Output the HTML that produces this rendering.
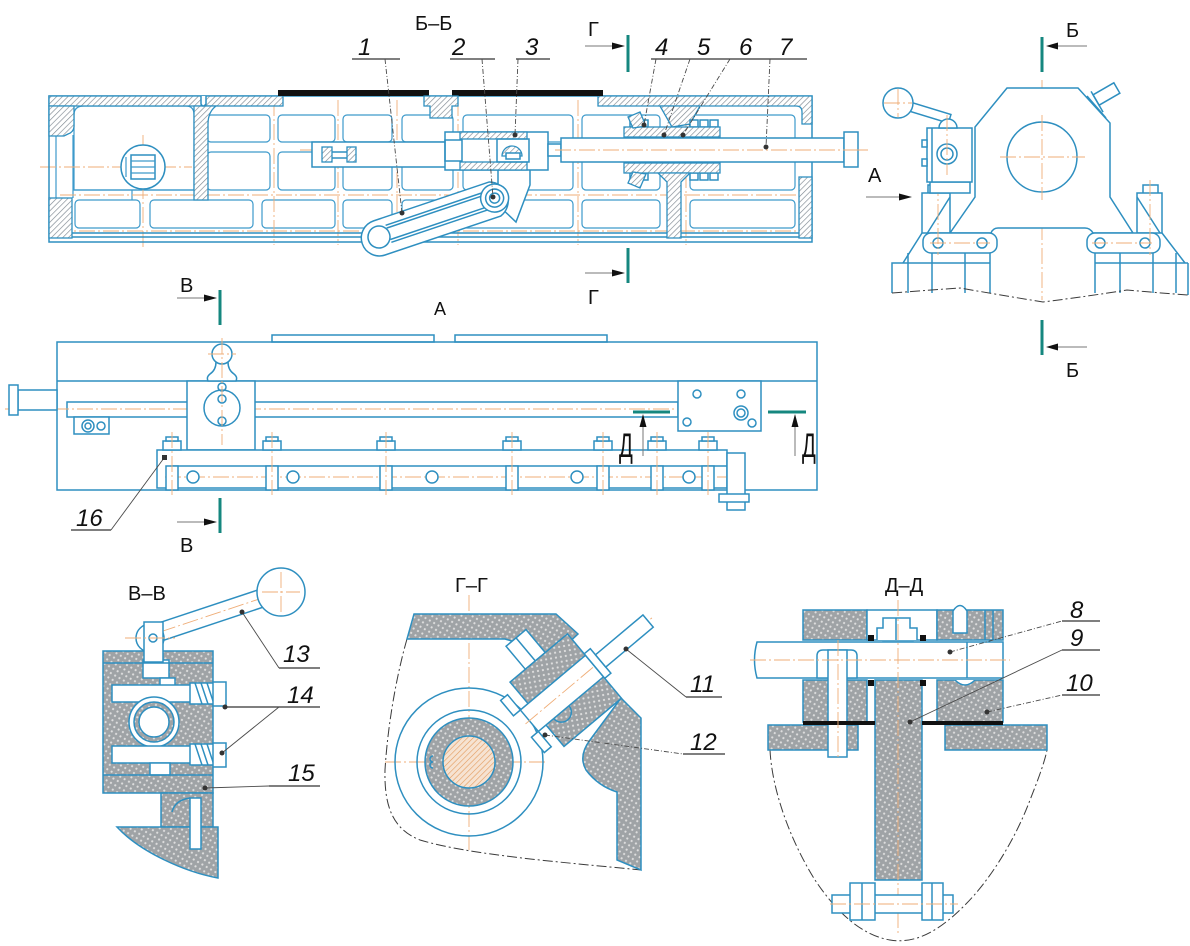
<!DOCTYPE html>
<html><head><meta charset="utf-8">
<style>
html,body{margin:0;padding:0;background:#fff;}
svg{display:block;}
</style></head><body>
<svg width="1190" height="946" viewBox="0 0 1190 946" xmlns="http://www.w3.org/2000/svg">
<defs>
<pattern id="h" width="4" height="4" patternUnits="userSpaceOnUse" patternTransform="rotate(45)">
<rect width="4" height="4" fill="#fff"/>
<line x1="0" y1="0" x2="0" y2="4" stroke="#7d8790" stroke-width="1.3"/>
</pattern>
<pattern id="d" width="5" height="5" patternUnits="userSpaceOnUse" patternTransform="rotate(30)">
<rect width="5" height="5" fill="#9fa3a6"/>
<circle cx="2.5" cy="2.5" r="1.1" fill="#dedede"/>
</pattern>
<pattern id="oh" width="4" height="4" patternUnits="userSpaceOnUse" patternTransform="rotate(45)">
<rect width="4" height="4" fill="#f6e3d2"/>
<line x1="0" y1="0" x2="0" y2="4" stroke="#e39a5c" stroke-width="1.2"/>
</pattern>
</defs>
<style>
.s{fill:none;stroke:#2e8fc0;stroke-width:1.5}
.g{fill:none;stroke:#3d9acb;stroke-width:1.2}
.w{fill:#fff;stroke:#2e8fc0;stroke-width:1.5}
.hb{fill:url(#h);stroke:#2e8fc0;stroke-width:1.3}
.db{fill:url(#d);stroke:#2e8fc0;stroke-width:1.5}
.c{fill:none;stroke:#efad77;stroke-width:.9;stroke-dasharray:16 3 2 3}
.t{stroke:#15877f;stroke-width:3;fill:none}
.l{stroke:#4a4a4a;stroke-width:.9;fill:none}
.ld{stroke:#4a4a4a;stroke-width:.9;fill:none;stroke-dasharray:5 2 1 2}
.u{stroke:#333;stroke-width:1.2}
.n{font-family:"Liberation Sans",sans-serif;font-style:italic;font-size:24px;fill:#111}
.tx{font-family:"Liberation Sans",sans-serif;font-size:20px;fill:#111}
.o{fill:none;stroke:#3a3a3a;stroke-width:1;stroke-dasharray:10 3 2 3}
.ar{fill:#111}
.al{stroke:#777;stroke-width:1}
.dot{fill:#333}
</style>

<!-- ================= SECTION Б-Б ================= -->
<text class="tx" x="415" y="30">Б–Б</text>
<!-- grid -->
<g class="g">
<rect x="207" y="115" width="63" height="27" rx="4"/><rect x="207" y="152" width="63" height="38" rx="4"/>
<rect x="278" y="115" width="57" height="27" rx="4"/><rect x="278" y="152" width="57" height="38" rx="4"/>
<rect x="343" y="115" width="49" height="27" rx="4"/><rect x="343" y="152" width="49" height="38" rx="4"/>
<rect x="402" y="115" width="51" height="27" rx="4"/><rect x="402" y="152" width="51" height="38" rx="4"/>
<rect x="463" y="115" width="110" height="27" rx="4"/><rect x="463" y="152" width="110" height="38" rx="4"/>
<rect x="582" y="115" width="78" height="27" rx="4"/><rect x="582" y="152" width="78" height="38" rx="4"/>
<rect x="690" y="115" width="105" height="27" rx="4"/><rect x="690" y="152" width="105" height="38" rx="4"/>
<rect x="75" y="200" width="65" height="28" rx="4"/><rect x="150" y="200" width="103" height="28" rx="4"/>
<rect x="262" y="200" width="73" height="28" rx="4"/><rect x="343" y="200" width="49" height="28" rx="4"/>
<rect x="402" y="200" width="51" height="28" rx="4"/><rect x="463" y="200" width="110" height="28" rx="4"/>
<rect x="582" y="200" width="78" height="28" rx="4"/><rect x="690" y="200" width="105" height="28" rx="4"/>
<path d="M74,115 Q74,106 84,106 H186 Q194,106 194,115 V190 H74 Z"/>
<line x1="74" y1="190" x2="194" y2="190"/><line x1="132" y1="190" x2="132" y2="200"/>
<line x1="56" y1="135" x2="56" y2="198"/><line x1="73" y1="135" x2="73" y2="198"/>
</g>
<g class="c">
<line x1="40" y1="167" x2="192" y2="167"/><line x1="300" y1="150" x2="870" y2="150"/>
<line x1="60" y1="195" x2="800" y2="195"/><line x1="55" y1="231" x2="805" y2="231"/>
<line x1="143" y1="135" x2="143" y2="250"/><line x1="274" y1="100" x2="274" y2="245"/>
<line x1="338" y1="100" x2="338" y2="245"/><line x1="397" y1="100" x2="397" y2="245"/>
<line x1="458" y1="100" x2="458" y2="245"/><line x1="578" y1="100" x2="578" y2="245"/>
<line x1="686" y1="100" x2="686" y2="245"/>
</g>
<!-- outer walls -->
<rect class="s" x="49" y="96" width="763" height="146"/>
<line class="s" x1="49" y1="233" x2="812" y2="233"/><line class="s" x1="49" y1="237" x2="812" y2="237"/>
<rect class="hb" x="49" y="96" width="234" height="10"/>
<path class="hb" d="M598,96 H812 V124 H802 V112 Q802,106 796,106 H598 Z"/>
<path class="hb" d="M49,106 H74 V126 Q74,132 68,134 L64,136 H49 Z"/>
<rect class="hb" x="49" y="198" width="23" height="40"/>
<path class="hb" d="M194,106 H216 Q208,112 208,124 V200 H194 Z"/>
<path class="w" d="M201,96 V104 Q203,108 206,104 V96"/>
<rect class="hb" x="799" y="177" width="13" height="61"/>
<rect x="278" y="90" width="151" height="6" fill="#111"/>
<rect x="452" y="90" width="151" height="6" fill="#111"/>
<path class="hb" d="M424,96 H458 V106 H452 V118 H430 V106 H424 Z"/>
<!-- circle left -->
<circle class="w" cx="143" cy="167" r="22"/>
<rect class="s" x="131" y="155" width="24" height="24"/>
<g class="g"><line x1="131" y1="161" x2="155" y2="161"/><line x1="131" y1="167" x2="155" y2="167"/><line x1="131" y1="173" x2="155" y2="173"/><line x1="126" y1="157" x2="126" y2="177"/></g>
<!-- rod assembly -->
<rect class="w" x="312" y="142" width="135" height="25"/>
<rect class="hb" x="322" y="147" width="10" height="15"/><rect class="hb" x="347" y="147" width="9" height="15"/>
<line class="s" x1="332" y1="152" x2="347" y2="152"/><line class="s" x1="332" y1="158" x2="347" y2="158"/>
<path class="w" d="M498,168 L530,168 L530,185 L516,222 L498,205 Z"/>
<rect class="w" x="445" y="132" width="103" height="38"/>
<rect class="hb" x="460" y="132" width="67" height="7"/>
<rect class="hb" x="460" y="162" width="67" height="8"/>
<rect class="s" x="445" y="140" width="17" height="21"/>
<rect class="s" x="497" y="139" width="32" height="23"/>
<path class="hb" d="M502,156 A10,10 0 0 1 522,156 Z"/>
<rect class="w" x="506" y="153" width="14" height="6"/>
<rect class="w" x="548" y="144" width="13" height="12"/>
<!-- shaft 7 -->
<rect class="w" x="561" y="138" width="283" height="24"/>
<rect class="w" x="844" y="132" width="14" height="35"/>
<line class="c" x1="555" y1="150" x2="866" y2="150"/>
<!-- nut assembly -->
<path class="hb" d="M660,106 L700,106 L690,124 L672,127 Z"/>
<g class="w">
<rect x="630" y="120" width="8" height="7"/><rect x="640" y="120" width="8" height="7"/><rect x="690" y="120" width="8" height="7"/><rect x="700" y="120" width="8" height="7"/><rect x="710" y="120" width="8" height="7"/>
<rect x="630" y="173" width="8" height="7"/><rect x="640" y="173" width="8" height="7"/><rect x="690" y="173" width="8" height="7"/><rect x="700" y="173" width="8" height="7"/><rect x="710" y="173" width="8" height="7"/>
</g>
<rect class="hb" x="624" y="127" width="96" height="10"/>
<rect class="hb" x="624" y="163" width="96" height="10"/>
<path class="hb" d="M628,117 L640,112 L646,126 L633,128 Z"/>
<path class="hb" d="M628,183 L640,188 L646,174 L633,172 Z"/>
<path class="hb" d="M658,173 H690 L681,182 V238 H667 V182 Z"/>
<!-- lever 1 -->
<g transform="translate(379,237) rotate(-18.6)">
<path class="w" d="M0,-17 H122 A19,19 0 0 1 122,19 H0 A17,17 0 0 1 0,-17 Z"/>
<g class="s"><line x1="10" y1="-6" x2="112" y2="-6"/><line x1="10" y1="6" x2="112" y2="6"/><line x1="10" y1="-9" x2="112" y2="-9"/><line x1="10" y1="9" x2="112" y2="9"/></g>
<circle class="w" cx="0" cy="0" r="11"/>
<circle class="w" cx="122" cy="0" r="14"/><circle class="s" cx="122" cy="0" r="9"/><circle class="s" cx="122" cy="0" r="5"/>
</g>
<!-- leaders Б-Б -->
<g class="n"><text x="358" y="55">1</text><text x="452" y="55">2</text><text x="525" y="55">3</text><text x="655" y="55">4</text><text x="697" y="55">5</text><text x="739" y="55">6</text><text x="779" y="55">7</text></g>
<g class="u"><line x1="352" y1="59" x2="400" y2="59"/><line x1="450" y1="59" x2="495" y2="59"/><line x1="516" y1="59" x2="550" y2="59"/><line x1="651" y1="59" x2="683" y2="59"/><line x1="683" y1="59" x2="723" y2="59"/><line x1="723" y1="59" x2="762" y2="59"/><line x1="762" y1="59" x2="807" y2="59"/></g>
<g class="ld"><line x1="385" y1="59" x2="402" y2="213"/><line x1="482" y1="59" x2="493" y2="197"/><line x1="518" y1="59" x2="515" y2="135"/><line x1="656" y1="59" x2="644" y2="125"/><line x1="690" y1="59" x2="664" y2="135"/><line x1="730" y1="59" x2="683" y2="135"/><line x1="770" y1="59" x2="766" y2="147"/></g>
<g class="dot"><circle cx="402" cy="213" r="2.5"/><circle cx="493" cy="197" r="2.5"/><circle cx="515" cy="135" r="2.5"/><circle cx="644" cy="125" r="2.5"/><circle cx="664" cy="135" r="2.5"/><circle cx="683" cy="135" r="2.5"/><circle cx="766" cy="147" r="2.5"/></g>
<!-- Г marks -->
<text class="tx" x="588" y="36">Г</text>
<line class="al" x1="585" y1="46" x2="614" y2="46"/><polygon class="ar" points="625,46 612,42.5 612,49.5"/>
<line class="t" x1="628" y1="35" x2="628" y2="72"/>
<line class="t" x1="628" y1="248" x2="628" y2="283"/>
<line class="al" x1="585" y1="273" x2="614" y2="273"/><polygon class="ar" points="625,273 612,269.5 612,276.5"/>
<text class="tx" x="588" y="304">Г</text>

<!-- ================= RIGHT VIEW ================= -->
<g class="c"><line x1="1042" y1="80" x2="1042" y2="300"/><line x1="995" y1="157" x2="1090" y2="157"/></g>
<path class="w" d="M1007,88 H1078 L1110,123 V197 L1133,233 H1093 Q1090,228 1085,228 H998 Q993,228 991,233 H950 L975,197 V127 Z"/>
<circle class="w" cx="1042" cy="157" r="35"/>
<g class="c"><line x1="1042" y1="115" x2="1042" y2="200"/><line x1="1000" y1="157" x2="1085" y2="157"/></g>
<g transform="translate(1103,96) rotate(-30)"><rect class="w" x="-8" y="-6" width="24" height="12"/><line class="s" x1="-8" y1="-10" x2="-8" y2="14"/></g>
<line class="s" x1="1087" y1="96" x2="1106" y2="118"/>
<!-- columns & arms -->
<rect class="w" x="928" y="185" width="15" height="9"/>
<rect class="w" x="1143" y="185" width="15" height="9"/>
<rect class="w" x="922" y="193" width="28" height="40"/>
<rect class="w" x="1137" y="193" width="25" height="40"/>
<path class="s" d="M950,197 L923,240 M922,233 L903,263 M1162,233 L1185,263 M1137,197 L1160,233"/>
<rect class="w" x="923" y="233" width="74" height="20" rx="8"/>
<rect class="w" x="1087" y="233" width="73" height="20" rx="8"/>
<g class="s"><circle cx="938" cy="243" r="5"/><circle cx="982" cy="243" r="5"/><circle cx="1100" cy="243" r="5"/><circle cx="1145" cy="243" r="5"/></g>
<g class="c"><line x1="930" y1="243" x2="990" y2="243"/><line x1="1092" y1="243" x2="1152" y2="243"/><line x1="938" y1="180" x2="938" y2="255"/><line x1="1150" y1="180" x2="1150" y2="255"/></g>
<!-- base -->
<g class="s">
<path d="M892,293 V263 H905"/><line x1="1183" y1="263" x2="1188" y2="263"/><line x1="1188" y1="263" x2="1188" y2="295"/>
<line x1="908" y1="253" x2="908" y2="293"/><line x1="932" y1="253" x2="932" y2="293"/><line x1="965" y1="253" x2="965" y2="293"/><line x1="990" y1="253" x2="990" y2="293"/>
<line x1="1095" y1="253" x2="1095" y2="293"/><line x1="1120" y1="253" x2="1120" y2="293"/><line x1="1153" y1="253" x2="1153" y2="293"/><line x1="1176" y1="253" x2="1176" y2="293"/>
<line x1="905" y1="263" x2="990" y2="263"/><line x1="1095" y1="263" x2="1183" y2="263"/>
</g>
<path class="o" d="M892,293 Q930,290 960,288 Q1000,295 1043,302 Q1090,296 1127,290 Q1160,293 1188,295"/>
<!-- handle block -->
<rect class="w" x="930" y="182" width="40" height="11"/>
<rect class="w" x="927" y="128" width="45" height="54"/>
<line class="s" x1="932" y1="128" x2="932" y2="182"/>
<rect class="w" x="922" y="140" width="5" height="7"/><rect class="w" x="922" y="159" width="5" height="7"/>
<circle class="s" cx="947" cy="154" r="10"/><circle class="s" cx="947" cy="154" r="6"/>
<g transform="translate(898,103) rotate(17)"><rect class="w" x="8" y="-4.5" width="46" height="9"/></g>
<path class="w" d="M939,128 A9,9 0 0 1 957,128 Z"/>
<circle class="w" cx="898" cy="103" r="15"/>
<g class="c"><line x1="884" y1="103" x2="912" y2="103"/><line x1="898" y1="89" x2="898" y2="117"/><line x1="947" y1="115" x2="947" y2="175"/></g>
<!-- Б marks & A -->
<text class="tx" x="1066" y="37">Б</text>
<line class="al" x1="1087" y1="46" x2="1058" y2="46"/><polygon class="ar" points="1046,46 1058,42.5 1058,49.5"/>
<line class="t" x1="1042" y1="37" x2="1042" y2="72"/>
<line class="t" x1="1042" y1="320" x2="1042" y2="355"/>
<line class="al" x1="1087" y1="347" x2="1058" y2="347"/><polygon class="ar" points="1046,347 1058,343.5 1058,350.5"/>
<text class="tx" x="1066" y="377">Б</text>
<text class="tx" x="868" y="182">А</text>
<line class="al" x1="866" y1="197" x2="900" y2="197"/><polygon class="ar" points="912,197 899,193.5 899,200.5"/>

<!-- ================= VIEW A ================= -->
<text class="tx" x="180" y="292">В</text>
<line class="al" x1="177" y1="298" x2="206" y2="298"/><polygon class="ar" points="217,298 204,294.5 204,301.5"/>
<line class="t" x1="220" y1="290" x2="220" y2="325"/>
<line class="t" x1="220" y1="498" x2="220" y2="533"/>
<line class="al" x1="177" y1="522" x2="206" y2="522"/><polygon class="ar" points="217,522 204,518.5 204,525.5"/>
<text class="tx" x="180" y="552">В</text>
<text class="tx" x="434" y="315" style="font-size:18px">А</text>

<rect class="w" x="272" y="335" width="162" height="7"/>
<rect class="w" x="455" y="335" width="152" height="7"/>
<rect class="s" x="57" y="342" width="760" height="148"/>
<line class="s" x1="57" y1="381" x2="817" y2="381"/>
<rect class="w" x="67" y="402" width="611" height="15"/>
<line class="c" x1="5" y1="409" x2="690" y2="409"/>
<rect class="w" x="18" y="390" width="39" height="20"/>
<rect class="w" x="9" y="385" width="9" height="30"/>
<rect class="w" x="74" y="417" width="35" height="17"/>
<circle class="s" cx="88" cy="426" r="6"/><circle class="s" cx="88" cy="426" r="3"/><circle class="s" cx="101" cy="426" r="4"/>
<!-- middle block + handle -->
<rect class="w" x="187" y="381" width="68" height="69"/>
<circle class="w" cx="222" cy="408" r="18"/>
<circle class="s" cx="222" cy="399" r="4"/><circle class="s" cx="222" cy="421" r="4"/><circle class="s" cx="222" cy="387" r="4"/>
<path class="w" d="M216,362 Q216,370 210,374 Q206,377 208,381 H236 Q238,377 234,374 Q228,370 228,362 Z"/>
<circle class="w" cx="222" cy="354" r="10"/>
<g class="c"><line x1="222" y1="338" x2="222" y2="445"/><line x1="208" y1="354" x2="236" y2="354"/></g>
<!-- right block -->
<rect class="w" x="678" y="381" width="83" height="50"/>
<g class="s"><circle cx="697" cy="394" r="4"/><circle cx="741" cy="394" r="4"/><circle cx="741" cy="413" r="7"/><circle cx="741" cy="413" r="4"/><circle cx="687" cy="422" r="4"/><circle cx="752" cy="423" r="4"/></g>
<!-- rail -->
<rect class="w" x="157" y="450" width="570" height="38"/>
<line class="s" x1="172" y1="466" x2="727" y2="466"/>
<line class="c" x1="165" y1="477" x2="730" y2="477"/>
<g class="w">
<rect x="166" y="466" width="12" height="24"/><rect x="266" y="466" width="12" height="24"/><rect x="380" y="466" width="12" height="24"/><rect x="506" y="466" width="12" height="24"/><rect x="597" y="466" width="12" height="24"/><rect x="651" y="466" width="12" height="24"/><rect x="702" y="466" width="12" height="24"/>
<rect x="163" y="441" width="18" height="9"/><rect x="263" y="441" width="18" height="9"/><rect x="377" y="441" width="18" height="9"/><rect x="503" y="441" width="18" height="9"/><rect x="594" y="441" width="18" height="9"/><rect x="648" y="441" width="18" height="9"/><rect x="699" y="441" width="18" height="9"/>
<rect x="166" y="437" width="12" height="4"/><rect x="266" y="437" width="12" height="4"/><rect x="380" y="437" width="12" height="4"/><rect x="506" y="437" width="12" height="4"/><rect x="597" y="437" width="12" height="4"/><rect x="651" y="437" width="12" height="4"/><rect x="702" y="437" width="12" height="4"/>
<circle cx="193" cy="477" r="6"/><circle cx="293" cy="477" r="6"/><circle cx="432" cy="477" r="6"/><circle cx="577" cy="477" r="6"/><circle cx="689" cy="477" r="6"/>
</g>
<g class="c"><line x1="172" y1="432" x2="172" y2="495"/><line x1="272" y1="432" x2="272" y2="495"/><line x1="386" y1="432" x2="386" y2="495"/><line x1="512" y1="432" x2="512" y2="495"/><line x1="603" y1="432" x2="603" y2="495"/><line x1="657" y1="432" x2="657" y2="495"/><line x1="708" y1="432" x2="708" y2="495"/></g>
<rect class="w" x="727" y="453" width="18" height="57"/>
<rect class="w" x="719" y="494" width="30" height="8"/>
<!-- Д marks (drawn after rail) -->
<line class="t" x1="633" y1="412" x2="670" y2="412"/>
<line class="al" x1="643" y1="456" x2="643" y2="425"/><polygon class="ar" points="643,414 639.5,427 646.5,427"/>
<text class="tx" style="font-size:34px" transform="translate(619,457) scale(0.6,1)">Д</text>
<line class="t" x1="768" y1="412" x2="806" y2="412"/>
<line class="al" x1="795" y1="456" x2="795" y2="425"/><polygon class="ar" points="795,414 791.5,427 798.5,427"/>
<text class="tx" style="font-size:34px" transform="translate(802,457) scale(0.6,1)">Д</text>
<!-- 16 -->
<text class="n" x="76" y="526">16</text>
<line class="u" x1="71" y1="530" x2="111" y2="530"/>
<line class="l" x1="111" y1="530" x2="164" y2="458"/>
<rect class="dot" x="162" y="455" width="5" height="5"/>

<!-- ================= SECTION В-В ================= -->
<text class="tx" x="128" y="600">В–В</text>
<rect class="db" x="103" y="651" width="110" height="142"/>
<rect class="w" x="143" y="660" width="26" height="18"/>
<rect class="w" x="160" y="678" width="15" height="8"/>
<line class="s" x1="103" y1="663" x2="213" y2="663"/>
<rect class="w" x="112" y="685" width="80" height="17"/>
<rect class="w" x="190" y="683" width="25" height="21"/>
<g class="s"><line x1="195" y1="683" x2="202" y2="704"/><line x1="201" y1="683" x2="208" y2="704"/><line x1="207" y1="683" x2="214" y2="704"/></g>
<rect class="w" x="213" y="682" width="13" height="24"/>
<circle class="w" cx="154" cy="722" r="25"/>
<circle class="db" cx="154" cy="722" r="20"/>
<circle class="w" cx="154" cy="722" r="15"/>
<rect class="w" x="112" y="746" width="80" height="17"/>
<rect class="w" x="190" y="744" width="25" height="21"/>
<g class="s"><line x1="195" y1="744" x2="202" y2="765"/><line x1="201" y1="744" x2="208" y2="765"/><line x1="207" y1="744" x2="214" y2="765"/></g>
<rect class="w" x="213" y="743" width="13" height="24"/>
<rect class="w" x="150" y="763" width="20" height="12"/>
<line class="s" x1="103" y1="775" x2="213" y2="775"/>
<rect class="db" x="161" y="793" width="52" height="34"/>
<path class="db" d="M117,827 H218 V878 C185,872 140,852 117,827 Z"/>
<path class="s" d="M172,812 Q175,800 190,798"/>
<rect class="w" x="190" y="798" width="11" height="51"/>
<!-- handle -->
<g transform="translate(160,632) rotate(-18.4)"><rect class="w" x="0" y="-9" width="105" height="18"/><line class="c" x1="0" y1="0" x2="110" y2="0"/></g>
<circle class="w" cx="281" cy="592" r="24"/>
<g class="c"><line x1="262" y1="592" x2="300" y2="592"/><line x1="281" y1="572" x2="281" y2="612"/></g>
<circle class="w" cx="150" cy="638" r="14"/>
<rect class="w" x="144" y="622" width="19" height="40"/>
<circle class="s" cx="153" cy="638" r="4"/>
<line class="c" x1="125" y1="638" x2="175" y2="638"/>
<g class="n"><text x="283" y="662">13</text><text x="287" y="703">14</text><text x="288" y="781">15</text></g>
<line class="u" x1="279" y1="668" x2="320" y2="668"/>
<line class="l" x1="242" y1="612" x2="279" y2="668"/>
<line class="u" x1="225" y1="707" x2="320" y2="707"/>
<line class="l" x1="222" y1="753" x2="279" y2="707"/>
<line class="u" x1="269" y1="786" x2="320" y2="786"/>
<line class="l" x1="205" y1="788" x2="269" y2="786"/>
<g class="dot"><circle cx="242" cy="612" r="2.5"/><circle cx="225" cy="707" r="2.5"/><circle cx="222" cy="753" r="2.5"/><circle cx="205" cy="788" r="2.5"/></g>

<!-- ================= SECTION Г-Г ================= -->
<text class="tx" x="455" y="592">Г–Г</text>
<path class="o" d="M407,639 C398,670 388,720 385,770 C384,810 395,830 420,840 C470,855 560,862 641,870"/>
<g class="c"><line x1="469" y1="595" x2="469" y2="850"/><line x1="385" y1="762" x2="545" y2="762"/></g>
<circle class="s" cx="469" cy="762" r="74"/>
<circle class="s" cx="469" cy="762" r="52"/>
<circle class="db" cx="469" cy="762" r="44"/>
<circle cx="469" cy="762" r="26" fill="url(#oh)" stroke="#2e8fc0" stroke-width="1.5"/>
<path class="s" d="M433,756 a3,3 0 1 0 0,6 a3,3 0 1 0 0,6"/>
<path class="db" d="M414,614 H556 L578,634 L548,662 Q528,645 505,639 H407 Z"/>
<path class="db" d="M590,740 L621,698 L641,718 V870 L617,860 V792 Q598,786 586,770 Q578,756 590,740 Z"/>
<g transform="translate(560,695) rotate(-40)">
<rect class="w" x="-10" y="-72" width="26" height="30"/>
<line class="s" x1="3" y1="-72" x2="3" y2="-42"/>
<rect class="db" x="-30" y="-42" width="75" height="84"/>
<rect class="w" x="-40" y="-14" width="85" height="28"/>
<path class="s" d="M-20,14 A10,10 0 0 0 0,14"/>
<line class="c" x1="-45" y1="0" x2="120" y2="0"/>
<rect class="w" x="45" y="-16" width="8" height="32"/>
<rect class="w" x="53" y="-8" width="62" height="16"/>
<rect class="w" x="-49" y="-34" width="9" height="20"/>
<rect class="w" x="-49" y="14" width="9" height="20"/>
</g>
<g class="n"><text x="690" y="692">11</text><text x="690" y="750">12</text></g>
<line class="u" x1="686" y1="697" x2="722" y2="697"/>
<line class="l" x1="626" y1="649" x2="686" y2="697"/>
<line class="u" x1="683" y1="754" x2="725" y2="754"/>
<line class="ld" x1="545" y1="735" x2="683" y2="754"/>
<g class="dot"><circle cx="626" cy="649" r="2.5"/><circle cx="545" cy="735" r="2.5"/></g>

<!-- ================= SECTION Д-Д ================= -->
<text class="tx" x="885" y="592">Д–Д</text>
<path class="o" d="M770,750 C772,790 790,840 815,880 C835,910 860,935 890,940 C920,945 945,925 965,905 C990,880 1015,840 1030,800 C1040,775 1045,760 1047,750"/>
<rect class="db" x="803" y="610" width="64" height="30"/>
<rect class="w" x="867" y="610" width="70" height="30"/>
<rect class="db" x="937" y="610" width="66" height="30"/>
<path class="w" d="M877,640 V628 H883 V618 H910 V628 H917 V640"/>
<line class="s" x1="896" y1="618" x2="896" y2="640"/>
<path class="w" d="M883,642 A15,10 0 0 0 913,642 Z"/>
<path class="w" d="M953,633 V611 Q960,600 967,611 V633 Z"/>
<line class="s" x1="985" y1="610" x2="985" y2="640"/><line class="s" x1="993" y1="610" x2="993" y2="640"/>
<path class="w" d="M757,642 H1003 V678 H757 Q752,660 757,642 Z"/>
<line class="s" x1="967" y1="642" x2="967" y2="678"/>
<rect class="db" x="803" y="680" width="64" height="42"/>
<rect class="db" x="937" y="680" width="66" height="42"/>
<path class="w" d="M955,680 Q965,690 975,680"/>
<rect class="db" x="875" y="680" width="47" height="200"/>
<rect class="db" x="768" y="725" width="90" height="25"/>
<rect class="db" x="945" y="725" width="102" height="25"/>
<path class="w" d="M817,678 V656 Q817,650 823,650 H851 Q857,650 857,656 V678 Z"/>
<rect class="w" x="828" y="650" width="19" height="107"/>
<rect x="803" y="721" width="72" height="4" fill="#111"/>
<rect x="922" y="721" width="81" height="4" fill="#111"/>
<g fill="#111"><rect x="868" y="635" width="6" height="6"/><rect x="920" y="635" width="6" height="6"/><rect x="868" y="680" width="6" height="6"/><rect x="920" y="680" width="6" height="6"/></g>
<g class="c"><line x1="750" y1="660" x2="1010" y2="660"/><line x1="838" y1="640" x2="838" y2="760"/><line x1="898" y1="600" x2="898" y2="935"/><line x1="830" y1="904" x2="958" y2="904"/></g>
<rect class="w" x="832" y="895" width="121" height="18"/>
<rect class="w" x="850" y="883" width="25" height="37"/>
<rect class="w" x="922" y="883" width="21" height="37"/>
<line class="s" x1="862" y1="883" x2="862" y2="920"/><line class="s" x1="932" y1="883" x2="932" y2="920"/>
<line class="c" x1="830" y1="904" x2="958" y2="904"/>
<g class="n"><text x="1070" y="618">8</text><text x="1070" y="646">9</text><text x="1066" y="691">10</text></g>
<line class="u" x1="1062" y1="621" x2="1100" y2="621"/>
<line class="u" x1="1062" y1="650" x2="1100" y2="650"/>
<line class="u" x1="1062" y1="695" x2="1100" y2="695"/>
<line class="ld" x1="950" y1="652" x2="1062" y2="621"/>
<line class="l" x1="910" y1="722" x2="1062" y2="650"/>
<line class="ld" x1="987" y1="712" x2="1062" y2="695"/>
<g class="dot"><circle cx="950" cy="652" r="2.5"/><circle cx="910" cy="722" r="2.5"/><circle cx="987" cy="712" r="2.5"/></g>
</svg>
</body></html>
